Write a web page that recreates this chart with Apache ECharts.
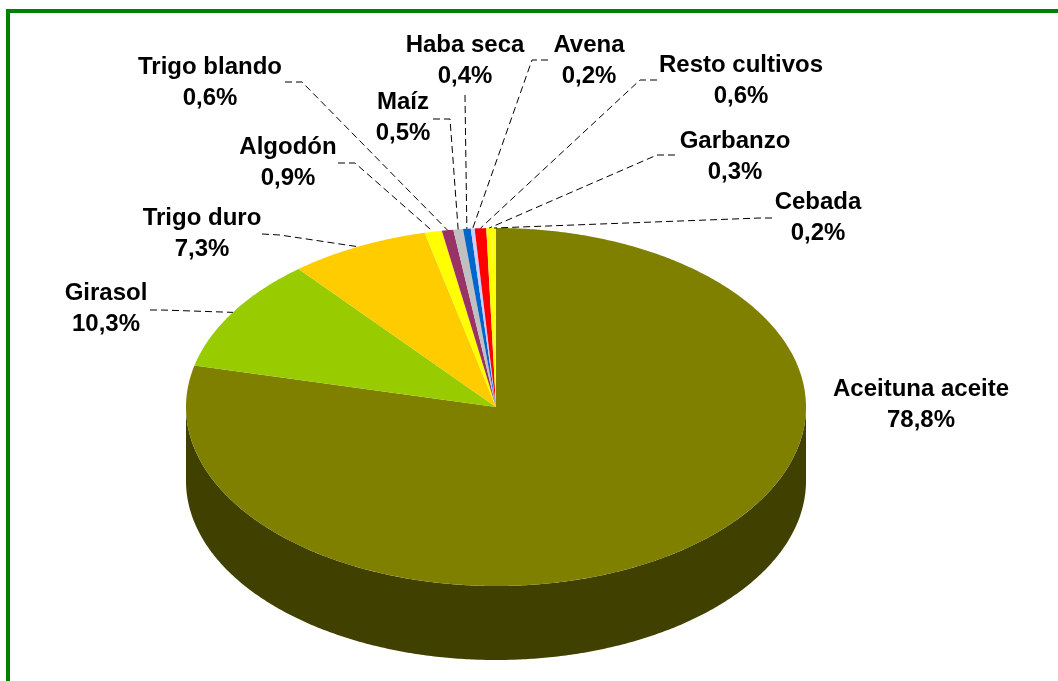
<!DOCTYPE html>
<html>
<head>
<meta charset="utf-8">
<script src="https://cdn.jsdelivr.net/npm/echarts@6/dist/echarts.min.js"></script>
<style>
  html, body { margin: 0; padding: 0; background: #fff; }
  #chart { width: 1058px; height: 681px; }
</style>
</head>
<body>
<div id="chart"></div>
<script>
(function(){

    // data
    var categories = ['Aceituna aceite', 'Girasol', 'Trigo duro', 'Algodón', 'Trigo blando', 'Maíz',
                      'Haba seca', 'Avena', 'Resto cultivos', 'Garbanzo', 'Cebada'];
    var shares     = [78.8, 10.3, 7.3, 0.9, 0.6, 0.5, 0.4, 0.2, 0.6, 0.3, 0.2];
    var colors     = ['#808000', '#99CC00', '#FFCC00', '#FFFF00', '#993366', '#C0C0C0',
                      '#0066CC', '#CCCCFF', '#FF0000', '#FFFF00', '#FFFF00'];

    // layout of the tilted pie (ellipse) and the hand placed labels
    var cx = 496, cy = 407, rx = 310, ry = 179, depth = 74;
    var labelPos = [[921, 405], [106, 309], [202, 234], [288, 163], [210, 83], [403, 118],
                    [465, 61], [589, 61], [741, 81], [735, 157], [818, 218]];
    var leaderPos = [null, [[150, 310], [162, 310]], [[262, 234], [280, 235]], [[338, 163], [355, 163]],
                     [[285, 82], [302, 82]], [[433, 119], [450, 119]], [[465, 95], [465, 96]],
                     [[548, 60], [532, 60]], [[657, 80], [640, 80]], [[675, 155], [657, 155]],
                     [[772, 218], [760, 218]]];

    var total = shares.reduce(function (a, b) { return a + b; }, 0);
    var starts = [];
    var acc = 0;
    shares.forEach(function (v) { starts.push(acc / total * Math.PI * 2); acc += v; });

    function pt(a, dy) {
        // angle measured clockwise from 12 o'clock, like Excel
        return [cx + rx * Math.sin(a), cy - ry * Math.cos(a) + (dy || 0)];
    }

    function shade(hex, f) {
        var n = parseInt(hex.slice(1), 16);
        var r = Math.round(((n >> 16) & 255) * f), g = Math.round(((n >> 8) & 255) * f), b = Math.round((n & 255) * f);
        return 'rgb(' + r + ',' + g + ',' + b + ')';
    }

    function arc(a0, a1, dy) {
        var pts = [];
        var steps = Math.max(2, Math.ceil((a1 - a0) / (Math.PI / 360)));
        for (var k = 0; k <= steps; k++) pts.push(pt(a0 + (a1 - a0) * k / steps, dy));
        return pts;
    }

    function pct(v) {
        return v.toFixed(1).replace('.', ',') + '%';
    }

    function renderItem(params, api) {
        var i = params.dataIndex;
        var a0 = starts[i];
        var a1 = a0 + api.value(0) / total * Math.PI * 2;
        var children = [];

        // visible side wall: front half of the ellipse (90deg .. 270deg)
        var s0 = Math.max(a0, Math.PI / 2), s1 = Math.min(a1, Math.PI * 1.5);
        if (s1 > s0) {
            var top = arc(s0, s1, 0);
            var bottom = arc(s0, s1, depth).reverse();
            children.push({
                type: 'polygon', z2: 1,
                shape: { points: top.concat(bottom) },
                style: { fill: shade(colors[i], 0.5) }
            });
        }

        children.push({
            type: 'polygon', z2: 2,
            shape: { points: [[cx, cy]].concat(arc(a0, a1, 0)) },
            style: { fill: colors[i] }
        });

        var mid = (a0 + a1) / 2;
        if (leaderPos[i]) {
            children.push({
                type: 'polyline', z2: 3,
                shape: { points: leaderPos[i].concat([pt(mid, 0)]) },
                style: { stroke: '#000', lineWidth: 1, lineDash: [7, 4], fill: null }
            });
        }

        children.push({
            type: 'text', z2: 4,
            style: {
                text: categories[i] + '\n' + pct(api.value(0)),
                x: labelPos[i][0], y: labelPos[i][1],
                fill: '#000',
                fontFamily: 'Liberation Sans, Arial, sans-serif',
                fontWeight: 'bold', fontSize: 24, lineHeight: 31,
                align: 'center', verticalAlign: 'middle'
            }
        });

        return { type: 'group', children: children };
    }

    var chart = echarts.init(document.getElementById('chart'));

    var option = {
        animation: false,
        backgroundColor: '#fff',
        graphic: [{
            type: 'polyline',
            shape: { points: [[8, 690], [8, 11], [1070, 11]] },
            style: { stroke: '#008000', lineWidth: 4, fill: null }
        }],
        series: [{
            type: 'custom',
            coordinateSystem: 'none',
            silent: true,
            renderItem: renderItem,
            data: shares.map(function (v, i) { return { name: categories[i], value: [v] }; })
        }]
    };

    chart.setOption(option);

})();
</script>
</body>
</html>
